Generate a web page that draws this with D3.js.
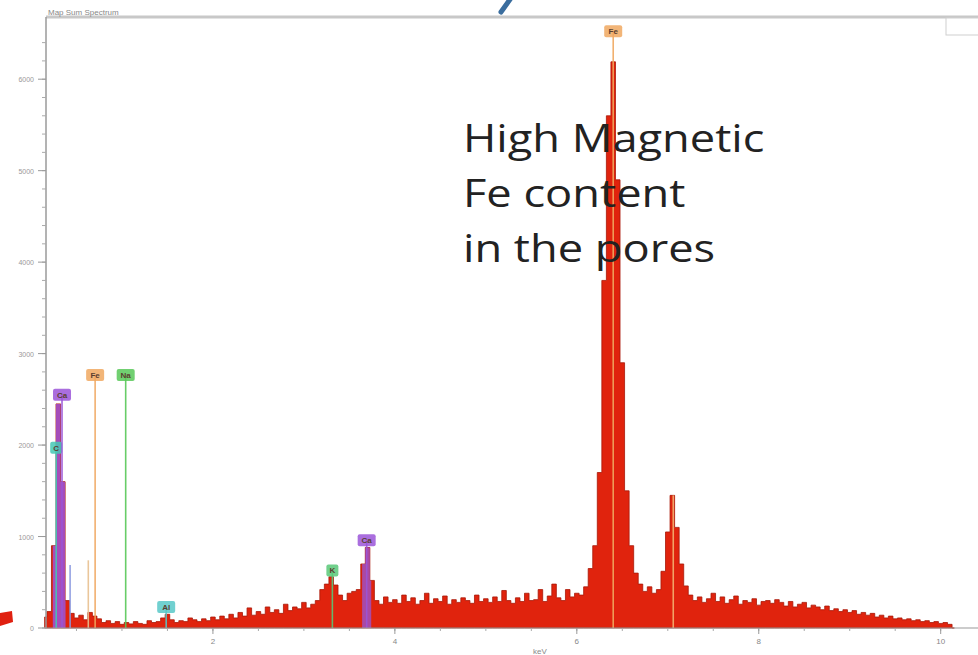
<!DOCTYPE html>
<html>
<head>
<meta charset="utf-8">
<script src="https://cdn.jsdelivr.net/npm/d3@7"></script>
<style>
  body { margin: 0; background: #fff; }
  svg { display: block; }
</style>
</head>
<body>
<script>
// spectrum channels (keV) and counts
const firstChannel = 0.15;
const channelWidth = 0.05;
const counts = [
  120, 180, 900, 2450, 1600, 300, 160, 110, 140, 90,      // 0.15 - 0.60
  170, 130, 100, 60, 80, 50, 70, 40, 60, 45,               // 0.65 - 1.10
  70, 50, 40, 80, 60, 70, 110, 150, 90, 60,                // 1.15 - 1.60
  80, 70, 110, 90, 70, 100, 80, 120, 90, 130,              // 1.65 - 2.10
  100, 150, 110, 170, 130, 220, 140, 180, 150, 230,        // 2.15 - 2.60
  170, 200, 160, 260, 190, 230, 210, 280, 220, 260,        // 2.65 - 3.10
  300, 420, 480, 560, 470, 360, 300, 380, 400, 420,        // 3.15 - 3.60
  700, 880, 520, 300, 260, 340, 280, 310, 270, 360,        // 3.65 - 4.10
  290, 330, 260, 300, 380, 270, 320, 290, 350, 260,        // 4.15 - 4.60
  310, 280, 330, 300, 270, 360, 290, 320, 280, 340,        // 4.65 - 5.10
  290, 410, 300, 270, 330, 290, 380, 300, 310, 420,        // 5.15 - 5.60
  290, 350, 480, 330, 300, 420, 340, 380, 360, 450,        // 5.65 - 6.10
  650, 900, 1700, 3800, 5600, 6190, 4900, 2900, 1500, 900, // 6.15 - 6.60
  600, 480, 400, 450, 380, 420, 620, 1050, 1450, 1100,     // 6.65 - 7.10
  700, 460, 360, 300, 340, 280, 320, 380, 290, 340,        // 7.15 - 7.60
  270, 310, 350, 260, 300, 280, 320, 250, 290, 300,        // 7.65 - 8.10
  270, 310, 280, 240, 290, 230, 260, 280, 220, 250,        // 8.15 - 8.60
  230, 200, 240, 190, 210, 180, 200, 170, 190, 150,        // 8.65 - 9.10
  170, 140, 160, 120, 140, 110, 130, 100, 110, 90,         // 9.15 - 9.60
  100, 80, 90, 70, 80, 60, 70, 50, 60, 40,                 // 9.65 - 10.10
  0                                                        // 10.15
];

// element marker lines: energy (keV), height of line top (counts), label
const markerEnergy = [0.277, 0.341, 0.43, 0.63, 0.705, 1.041, 1.486, 3.313, 3.69, 6.40, 7.06];
const markerTop    = [1970, 2550, 690, 740, 2765, 2765, 230, 630, 960, 6525, 1450];
const markerLabel  = ["C", "Ca", "", "", "Fe", "Na", "Al", "K", "Ca", "Fe", ""];
const markerColor  = ["#44c8b4", "#9b55d8", "#8a9ae0", "#e8c090", "#f0a860", "#58c858",
                      "#58c8c8", "#58c878", "#9b55d8", "#f0a860", "#f4b070"];

// peak regions shaded in the element colour
const shadeFrom  = [0.24, 3.64];
const shadeTo    = [0.38, 3.74];
const shadeColor = ["#9b55d8", "#a050c0"];

const xTicks = [2, 4, 6, 8, 10];
const xMinorTicks = d3.range(0.5, 10.5, 0.5);
const yTicks = [0, 1000, 2000, 3000, 4000, 5000, 6000];
const yMinorTicks = d3.range(0, 6600, 200);

const noteLines = ["High Magnetic", "Fe content", "in the pores"];

const width = 978, height = 655;
const svg = d3.select("body").append("svg")
  .attr("width", width).attr("height", height);

const x = d3.scaleLinear().domain([0.165, 10.41]).range([46, 978]);
const y = d3.scaleLinear().domain([0, 6680]).range([628, 17]);

const spectrum = counts.map((c, i) => ({ e: firstChannel + i * channelWidth, c: c }));

const area = d3.area()
  .curve(d3.curveStep)
  .x(d => x(d.e))
  .y0(y(0))
  .y1(d => y(d.c));

// frame
svg.append("line")
  .attr("x1", 46).attr("x2", 978).attr("y1", 17).attr("y2", 17)
  .style("stroke", "#c8c8c8").style("stroke-width", 3);
svg.append("rect")
  .attr("x", 946).attr("y", 18).attr("width", 34).attr("height", 17)
  .style("fill", "#fff").style("stroke", "#cfcfcf");
svg.append("text")
  .attr("x", 48).attr("y", 15)
  .text("Map Sum Spectrum")
  .style("font-family", "Liberation Sans, sans-serif")
  .style("font-size", "8px").style("fill", "#888");

// spectrum fill
svg.append("path")
  .datum(spectrum)
  .attr("d", area)
  .style("fill", "#e0230d")
  .style("stroke", "#a81808")
  .style("stroke-width", 0.8);

const defs = svg.append("defs");
shadeFrom.forEach((f, i) => {
  defs.append("clipPath").attr("id", "shade" + i)
    .append("rect")
    .attr("x", x(f)).attr("y", 0)
    .attr("width", x(shadeTo[i]) - x(f)).attr("height", height);
  svg.append("path")
    .datum(spectrum)
    .attr("d", area)
    .attr("clip-path", "url(#shade" + i + ")")
    .style("fill", shadeColor[i])
    .style("opacity", 0.85);
});

// marker lines and labels
const markers = svg.append("g");
markerEnergy.forEach((e, i) => {
  markers.append("line")
    .attr("x1", x(e)).attr("x2", x(e))
    .attr("y1", y(0)).attr("y2", y(markerTop[i]))
    .style("stroke", markerColor[i])
    .style("stroke-width", 1.6)
    .style("opacity", 0.9);
  if (markerLabel[i] !== "") {
    const w = markerLabel[i].length > 1 ? 18 : 12;
    markers.append("rect")
      .attr("x", x(e) - w / 2).attr("y", y(markerTop[i]) - 6)
      .attr("width", w).attr("height", 12).attr("rx", 2)
      .style("fill", markerColor[i]).style("opacity", 0.85);
    markers.append("text")
      .attr("x", x(e)).attr("y", y(markerTop[i]) + 3)
      .attr("text-anchor", "middle")
      .text(markerLabel[i])
      .style("font-family", "Liberation Sans, sans-serif")
      .style("font-size", "8px")
      .style("font-weight", "bold")
      .style("fill", "#5a4030");
  }
});

// axes
const xAxis = svg.append("g").attr("transform", "translate(0," + y(0) + ")");
xAxis.append("line").attr("x1", 46).attr("x2", 978)
  .style("stroke", "#9a9a9a").style("stroke-width", 1.2);
xAxis.selectAll(".minor").data(xMinorTicks).enter().append("line")
  .attr("x1", d => x(d)).attr("x2", d => x(d))
  .attr("y1", 0).attr("y2", 3)
  .style("stroke", "#aaa");
xAxis.selectAll(".major").data(xTicks).enter().append("line")
  .attr("x1", d => x(d)).attr("x2", d => x(d))
  .attr("y1", 0).attr("y2", 6)
  .style("stroke", "#999");
xAxis.selectAll("text.tick").data(xTicks).enter().append("text")
  .attr("x", d => x(d)).attr("y", 16)
  .attr("text-anchor", "middle")
  .text(d => d)
  .style("font-family", "Liberation Sans, sans-serif")
  .style("font-size", "8px").style("fill", "#888");
svg.append("text")
  .attr("x", 540).attr("y", 654)
  .attr("text-anchor", "middle")
  .text("keV")
  .style("font-family", "Liberation Sans, sans-serif")
  .style("font-size", "8px").style("fill", "#888");

const yAxis = svg.append("g").attr("transform", "translate(46,0)");
yAxis.append("line").attr("y1", 17).attr("y2", 628)
  .style("stroke", "#9a9a9a").style("stroke-width", 1.5);
yAxis.selectAll(".minor").data(yMinorTicks).enter().append("line")
  .attr("x1", -4).attr("x2", 0)
  .attr("y1", d => y(d)).attr("y2", d => y(d))
  .style("stroke", "#aaa");
yAxis.selectAll(".major").data(yTicks).enter().append("line")
  .attr("x1", -8).attr("x2", 0)
  .attr("y1", d => y(d)).attr("y2", d => y(d))
  .style("stroke", "#999");
yAxis.selectAll("text").data(yTicks).enter().append("text")
  .attr("x", -12).attr("y", d => y(d) + 3)
  .attr("text-anchor", "end")
  .text(d => d)
  .style("font-family", "Liberation Sans, sans-serif")
  .style("font-size", "7px").style("fill", "#999");

// slide decorations
svg.append("line")
  .attr("x1", 511).attr("y1", -2).attr("x2", 501).attr("y2", 12)
  .style("stroke", "#3a6d9e").style("stroke-width", 5)
  .style("stroke-linecap", "round");
svg.append("path")
  .attr("d", "M0,613 L12,611 L13,622 L0,626 Z")
  .style("fill", "#e02010");

// annotation, stretched horizontally like the slide text
svg.append("g")
  .attr("transform", "translate(463,0) scale(1.19,1)")
  .selectAll("text")
  .data(noteLines).enter().append("text")
  .attr("x", 0)
  .attr("y", (d, i) => 152 + i * 55)
  .text(d => d)
  .style("font-family", "Open Sans, sans-serif")
  .style("font-size", "38px")
  .style("fill", "#222");
</script>
</body>
</html>
